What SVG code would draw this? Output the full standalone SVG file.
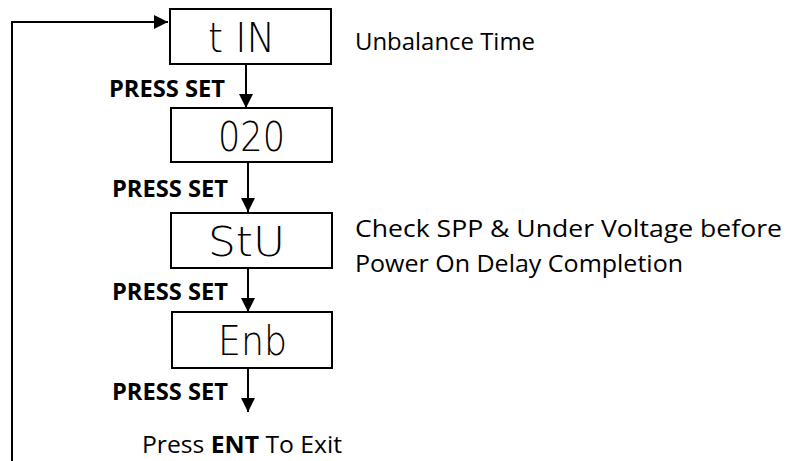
<svg xmlns="http://www.w3.org/2000/svg" width="789" height="461" viewBox="0 0 789 461">
<style>
.box{fill:#fff;stroke:#000;stroke-width:2}
.seg{font-family:"DejaVu Sans ExtraLight","DejaVu Sans",sans-serif;font-weight:200;font-size:40px;fill:#000}
.lbl{font-family:"Open Sans","Liberation Sans",sans-serif;font-weight:bold;font-size:23px;fill:#000}
.txt{font-family:"Open Sans","Liberation Sans",sans-serif;font-size:24px;fill:#000}
.con{fill:none;stroke:#000;stroke-width:2}
</style>
<defs>
<marker id="ah" viewBox="0 0 14 14" refX="14" refY="7" markerWidth="14" markerHeight="14" markerUnits="userSpaceOnUse" orient="auto">
<path d="M0,0 L14,7 L0,14 Z" fill="#000"/>
</marker>
</defs>
<rect width="789" height="461" fill="#fff"/>
<g id="connectors">
<line class="con" x1="246" y1="64" x2="246" y2="108" marker-end="url(#ah)"/>
<line class="con" x1="248" y1="162" x2="248" y2="212" marker-end="url(#ah)"/>
<line class="con" x1="248" y1="268" x2="248" y2="312" marker-end="url(#ah)"/>
<line class="con" x1="248" y1="368" x2="248" y2="412" marker-end="url(#ah)"/>
<polyline class="con" points="12,461 12,22 168,22" marker-end="url(#ah)"/>
</g>
<g id="node-tin">
<rect class="box" x="170" y="9" width="161" height="55"/>
<text class="seg" x="208" y="52" textLength="67" lengthAdjust="spacingAndGlyphs">t IN</text>
</g>
<g id="node-020">
<rect class="box" x="171" y="108" width="161" height="54"/>
<text class="seg" x="218" y="151" textLength="67" lengthAdjust="spacingAndGlyphs">020</text>
</g>
<g id="node-stu">
<rect class="box" x="171" y="213" width="161" height="55"/>
<text class="seg" x="208" y="256" textLength="77" lengthAdjust="spacingAndGlyphs">StU</text>
</g>
<g id="node-enb">
<rect class="box" x="172" y="312" width="160" height="56"/>
<text class="seg" x="218" y="355" textLength="69" lengthAdjust="spacingAndGlyphs">Enb</text>
</g>
<g id="labels">
<text class="lbl" x="109" y="97" textLength="116" lengthAdjust="spacingAndGlyphs">PRESS SET</text>
<text class="lbl" x="112" y="197" textLength="116" lengthAdjust="spacingAndGlyphs">PRESS SET</text>
<text class="lbl" x="112" y="300" textLength="116" lengthAdjust="spacingAndGlyphs">PRESS SET</text>
<text class="lbl" x="112" y="400" textLength="116" lengthAdjust="spacingAndGlyphs">PRESS SET</text>
<text class="txt" x="355" y="50" textLength="180" lengthAdjust="spacingAndGlyphs">Unbalance Time</text>
<text class="txt" x="355" y="237" textLength="427" lengthAdjust="spacingAndGlyphs">Check SPP &amp; Under Voltage before</text>
<text class="txt" x="355" y="272" textLength="328" lengthAdjust="spacingAndGlyphs">Power On Delay Completion</text>
<text class="txt" x="142" y="453" font-size="22" textLength="200" lengthAdjust="spacingAndGlyphs">Press <tspan font-weight="bold">ENT</tspan> To Exit</text>
</g>
</svg>
